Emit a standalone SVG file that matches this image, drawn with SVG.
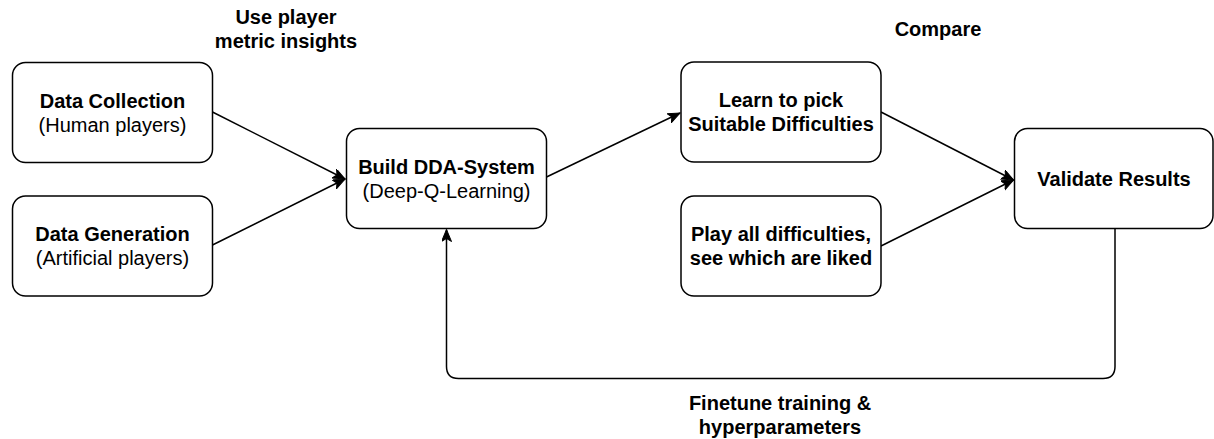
<svg xmlns="http://www.w3.org/2000/svg" width="1214" height="439" viewBox="0 0 1214 439">
<style>
.box{fill:#fff;stroke:#000;stroke-width:1.5}
.t{font-family:"Liberation Sans",Arial,Helvetica,sans-serif;font-size:20px;text-anchor:middle;fill:#000}
.b{font-weight:bold}
.c{fill:none;stroke:#000;stroke-width:1.5}
</style>
<defs>
<marker id="arr" markerUnits="userSpaceOnUse" markerWidth="14" markerHeight="12" refX="12" refY="5" orient="auto">
<path d="M0,0 L12,5 L0,10 L3,5 Z" fill="#000" stroke="#000" stroke-width="1"/>
</marker>
</defs>
<rect width="1214" height="439" fill="#fff"/>
<g id="connectors">
<line class="c" x1="212.5" y1="112" x2="345" y2="179" marker-end="url(#arr)"/>
<line class="c" x1="212.5" y1="245" x2="345" y2="179" marker-end="url(#arr)"/>
<line class="c" x1="546.5" y1="177" x2="680" y2="113" marker-end="url(#arr)"/>
<line class="c" x1="881" y1="112" x2="1013.5" y2="180" marker-end="url(#arr)"/>
<line class="c" x1="881" y1="246" x2="1013.5" y2="180" marker-end="url(#arr)"/>
<path class="c" d="M1115,228.5 V366.5 Q1115,378.5 1103,378.5 H458.5 Q446.5,378.5 446.5,366.5 V229.5" marker-end="url(#arr)"/>
</g>
<g id="label-use">
<text class="t b" x="286" y="24">Use player</text>
<text class="t b" x="286" y="48">metric insights</text>
</g>
<g id="label-compare">
<text class="t b" x="938" y="36">Compare</text>
</g>
<g id="label-finetune">
<text class="t b" x="780" y="409.5">Finetune training &amp;</text>
<text class="t b" x="780" y="433.5">hyperparameters</text>
</g>
<g id="node-collection">
<rect class="box" x="12.5" y="62.5" width="200" height="100" rx="13"/>
<text class="t b" x="112.5" y="107.7">Data Collection</text>
<text class="t" x="112.5" y="131.7">(Human players)</text>
</g>
<g id="node-generation">
<rect class="box" x="12.5" y="196" width="200" height="100" rx="13"/>
<text class="t b" x="112.5" y="241.2">Data Generation</text>
<text class="t" x="112.5" y="265.2">(Artificial players)</text>
</g>
<g id="node-dda">
<rect class="box" x="346.5" y="128.5" width="200" height="100" rx="13"/>
<text class="t b" x="446.5" y="173.7">Build DDA-System</text>
<text class="t" x="446.5" y="197.7">(Deep-Q-Learning)</text>
</g>
<g id="node-learn">
<rect class="box" x="681" y="62" width="200" height="100" rx="13"/>
<text class="t b" x="781" y="107.2">Learn to pick</text>
<text class="t b" x="781" y="131.2">Suitable Difficulties</text>
</g>
<g id="node-play">
<rect class="box" x="681" y="196" width="200" height="100" rx="13"/>
<text class="t b" x="781" y="241.2">Play all difficulties,</text>
<text class="t b" x="781" y="265.2">see which are liked</text>
</g>
<g id="node-validate">
<rect class="box" x="1014.5" y="128.5" width="198.5" height="100" rx="13"/>
<text class="t b" x="1114" y="185.7">Validate Results</text>
</g>
</svg>
